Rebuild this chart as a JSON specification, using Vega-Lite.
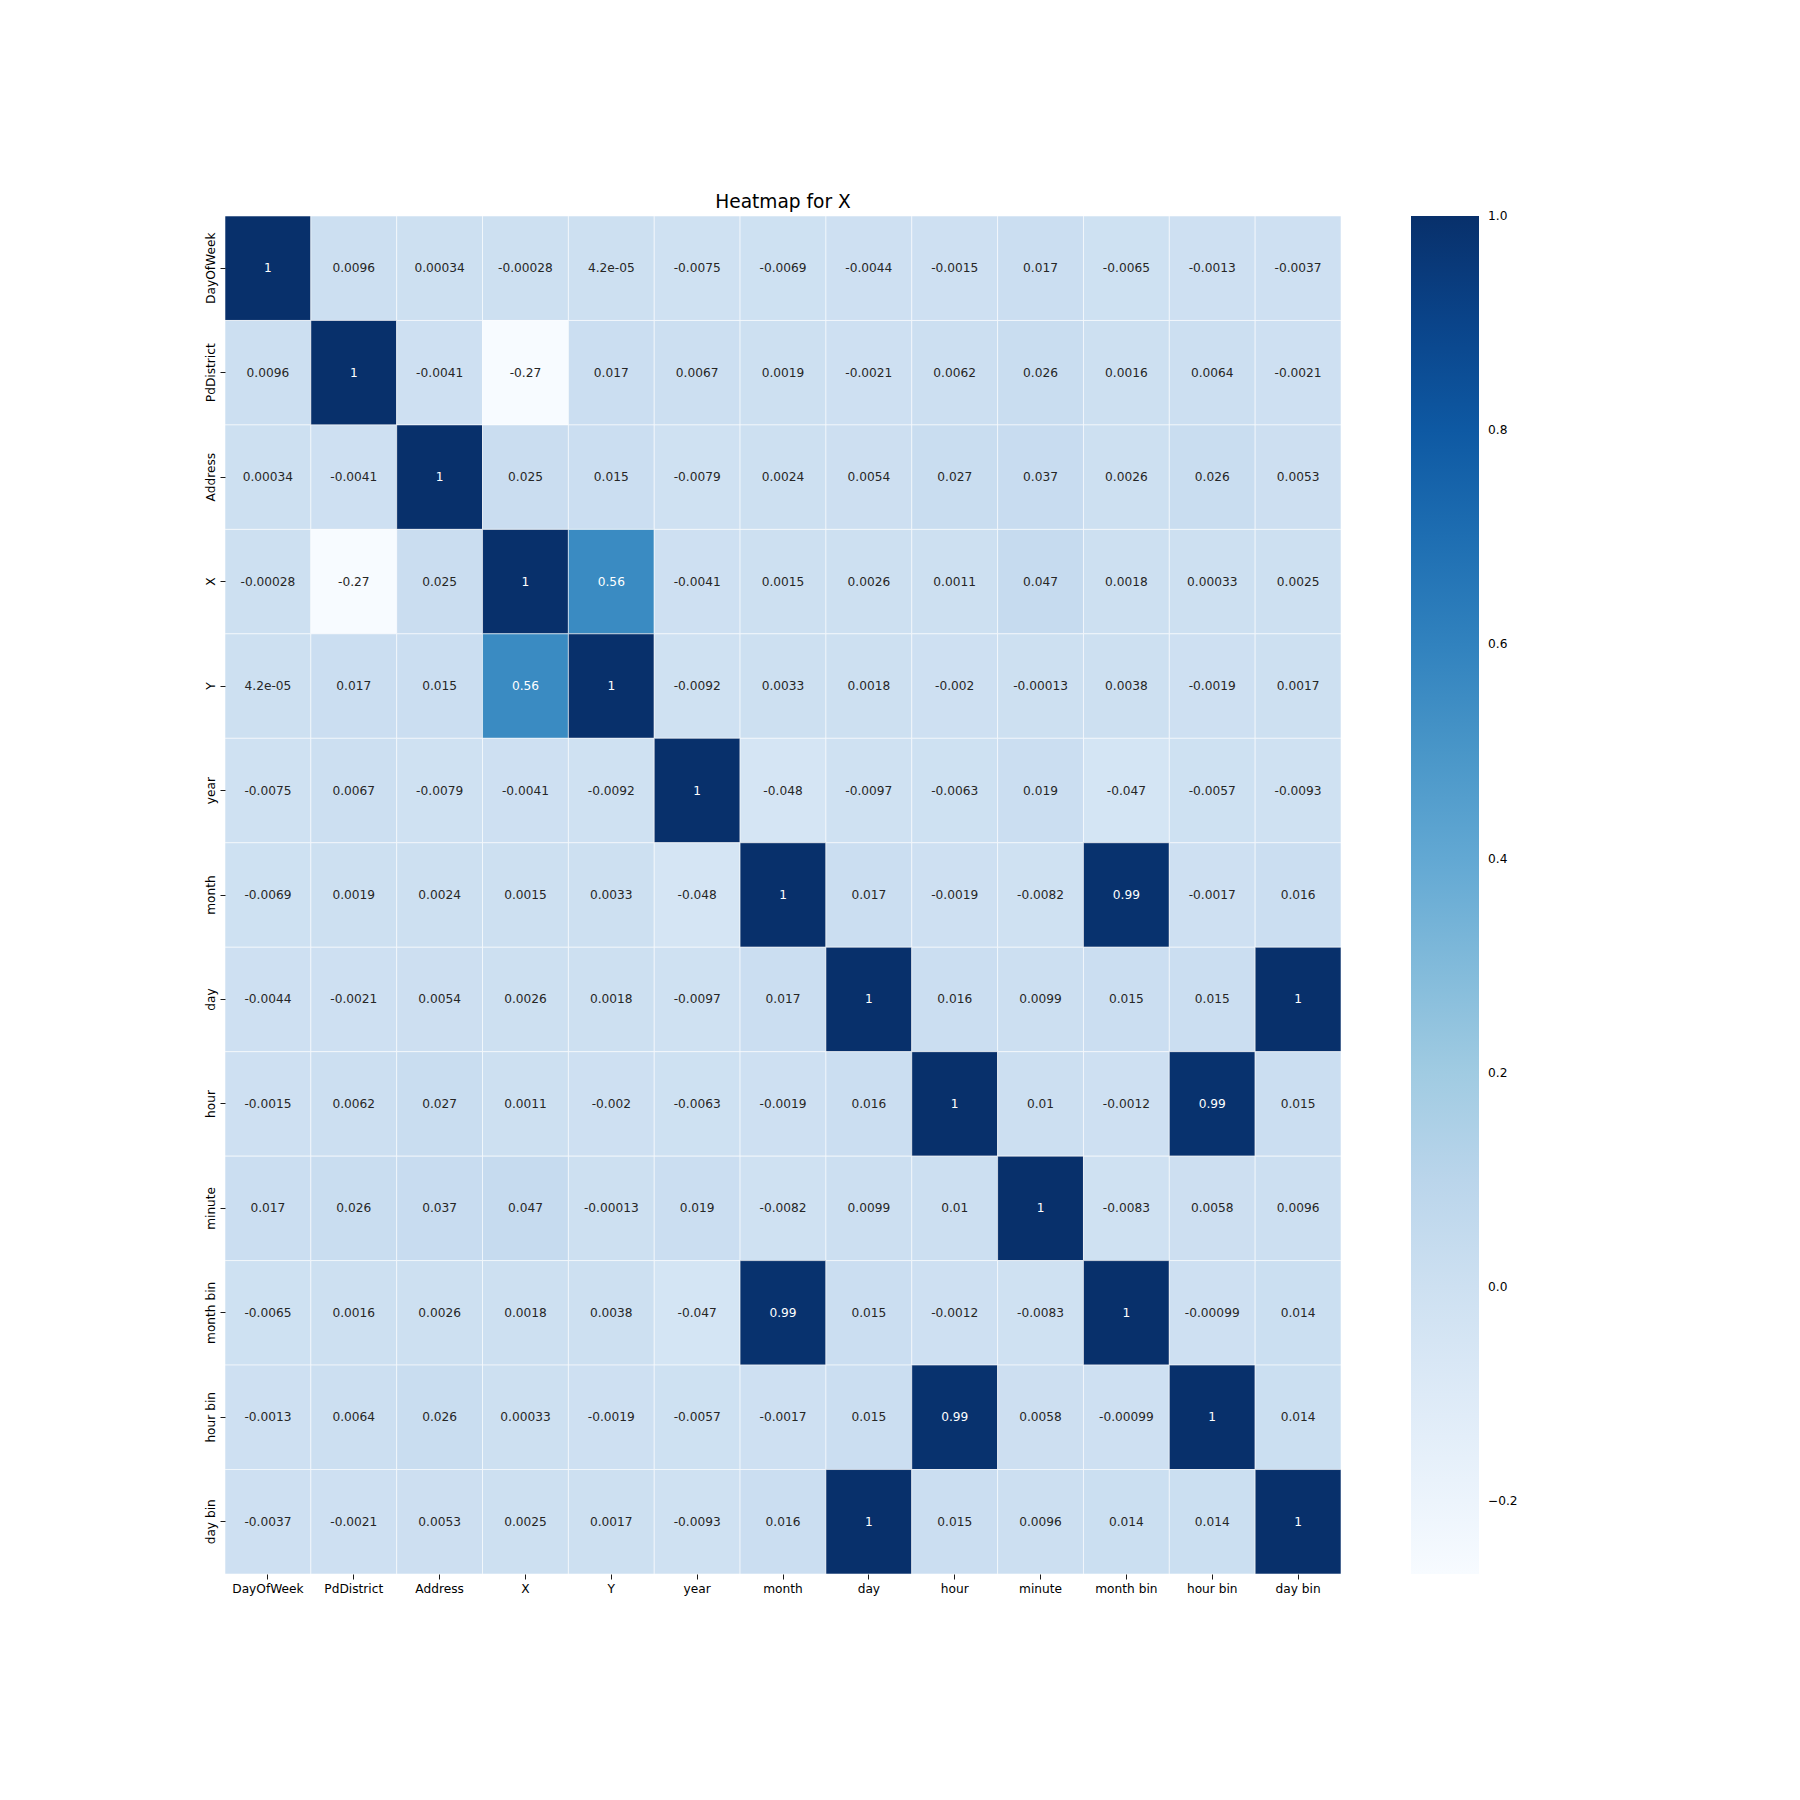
{
  "$schema": "https://vega.github.io/schema/vega-lite/v6.json",
  "width": 1116,
  "height": 1358,
  "autosize": {"type": "none"},
  "padding": {"left": 225, "top": 216, "right": 459, "bottom": 226},
  "background": "white",
  "title": {"text": "Heatmap for X", "font": "DejaVu Sans", "fontSize": 18.6, "fontWeight": "normal", "color": "#000000", "baseline": "alphabetic", "offset": -11, "anchor": "middle"},
  "config": {"view": {"stroke": null}, "font": "DejaVu Sans"},
  "data": {"values": [
    {"r":"DayOfWeek","c":"DayOfWeek","v":1,"t":"1"},{"r":"DayOfWeek","c":"PdDistrict","v":0.0096,"t":"0.0096"},{"r":"DayOfWeek","c":"Address","v":0.00034,"t":"0.00034"},{"r":"DayOfWeek","c":"X","v":-0.00028,"t":"-0.00028"},{"r":"DayOfWeek","c":"Y","v":0.000042,"t":"4.2e-05"},{"r":"DayOfWeek","c":"year","v":-0.0075,"t":"-0.0075"},{"r":"DayOfWeek","c":"month","v":-0.0069,"t":"-0.0069"},{"r":"DayOfWeek","c":"day","v":-0.0044,"t":"-0.0044"},{"r":"DayOfWeek","c":"hour","v":-0.0015,"t":"-0.0015"},{"r":"DayOfWeek","c":"minute","v":0.017,"t":"0.017"},{"r":"DayOfWeek","c":"month bin","v":-0.0065,"t":"-0.0065"},{"r":"DayOfWeek","c":"hour bin","v":-0.0013,"t":"-0.0013"},{"r":"DayOfWeek","c":"day bin","v":-0.0037,"t":"-0.0037"},
    {"r":"PdDistrict","c":"DayOfWeek","v":0.0096,"t":"0.0096"},{"r":"PdDistrict","c":"PdDistrict","v":1,"t":"1"},{"r":"PdDistrict","c":"Address","v":-0.0041,"t":"-0.0041"},{"r":"PdDistrict","c":"X","v":-0.268,"t":"-0.27"},{"r":"PdDistrict","c":"Y","v":0.017,"t":"0.017"},{"r":"PdDistrict","c":"year","v":0.0067,"t":"0.0067"},{"r":"PdDistrict","c":"month","v":0.0019,"t":"0.0019"},{"r":"PdDistrict","c":"day","v":-0.0021,"t":"-0.0021"},{"r":"PdDistrict","c":"hour","v":0.0062,"t":"0.0062"},{"r":"PdDistrict","c":"minute","v":0.026,"t":"0.026"},{"r":"PdDistrict","c":"month bin","v":0.0016,"t":"0.0016"},{"r":"PdDistrict","c":"hour bin","v":0.0064,"t":"0.0064"},{"r":"PdDistrict","c":"day bin","v":-0.0021,"t":"-0.0021"},
    {"r":"Address","c":"DayOfWeek","v":0.00034,"t":"0.00034"},{"r":"Address","c":"PdDistrict","v":-0.0041,"t":"-0.0041"},{"r":"Address","c":"Address","v":1,"t":"1"},{"r":"Address","c":"X","v":0.025,"t":"0.025"},{"r":"Address","c":"Y","v":0.015,"t":"0.015"},{"r":"Address","c":"year","v":-0.0079,"t":"-0.0079"},{"r":"Address","c":"month","v":0.0024,"t":"0.0024"},{"r":"Address","c":"day","v":0.0054,"t":"0.0054"},{"r":"Address","c":"hour","v":0.027,"t":"0.027"},{"r":"Address","c":"minute","v":0.037,"t":"0.037"},{"r":"Address","c":"month bin","v":0.0026,"t":"0.0026"},{"r":"Address","c":"hour bin","v":0.026,"t":"0.026"},{"r":"Address","c":"day bin","v":0.0053,"t":"0.0053"},
    {"r":"X","c":"DayOfWeek","v":-0.00028,"t":"-0.00028"},{"r":"X","c":"PdDistrict","v":-0.268,"t":"-0.27"},{"r":"X","c":"Address","v":0.025,"t":"0.025"},{"r":"X","c":"X","v":1,"t":"1"},{"r":"X","c":"Y","v":0.56,"t":"0.56"},{"r":"X","c":"year","v":-0.0041,"t":"-0.0041"},{"r":"X","c":"month","v":0.0015,"t":"0.0015"},{"r":"X","c":"day","v":0.0026,"t":"0.0026"},{"r":"X","c":"hour","v":0.0011,"t":"0.0011"},{"r":"X","c":"minute","v":0.047,"t":"0.047"},{"r":"X","c":"month bin","v":0.0018,"t":"0.0018"},{"r":"X","c":"hour bin","v":0.00033,"t":"0.00033"},{"r":"X","c":"day bin","v":0.0025,"t":"0.0025"},
    {"r":"Y","c":"DayOfWeek","v":0.000042,"t":"4.2e-05"},{"r":"Y","c":"PdDistrict","v":0.017,"t":"0.017"},{"r":"Y","c":"Address","v":0.015,"t":"0.015"},{"r":"Y","c":"X","v":0.56,"t":"0.56"},{"r":"Y","c":"Y","v":1,"t":"1"},{"r":"Y","c":"year","v":-0.0092,"t":"-0.0092"},{"r":"Y","c":"month","v":0.0033,"t":"0.0033"},{"r":"Y","c":"day","v":0.0018,"t":"0.0018"},{"r":"Y","c":"hour","v":-0.002,"t":"-0.002"},{"r":"Y","c":"minute","v":-0.00013,"t":"-0.00013"},{"r":"Y","c":"month bin","v":0.0038,"t":"0.0038"},{"r":"Y","c":"hour bin","v":-0.0019,"t":"-0.0019"},{"r":"Y","c":"day bin","v":0.0017,"t":"0.0017"},
    {"r":"year","c":"DayOfWeek","v":-0.0075,"t":"-0.0075"},{"r":"year","c":"PdDistrict","v":0.0067,"t":"0.0067"},{"r":"year","c":"Address","v":-0.0079,"t":"-0.0079"},{"r":"year","c":"X","v":-0.0041,"t":"-0.0041"},{"r":"year","c":"Y","v":-0.0092,"t":"-0.0092"},{"r":"year","c":"year","v":1,"t":"1"},{"r":"year","c":"month","v":-0.048,"t":"-0.048"},{"r":"year","c":"day","v":-0.0097,"t":"-0.0097"},{"r":"year","c":"hour","v":-0.0063,"t":"-0.0063"},{"r":"year","c":"minute","v":0.019,"t":"0.019"},{"r":"year","c":"month bin","v":-0.047,"t":"-0.047"},{"r":"year","c":"hour bin","v":-0.0057,"t":"-0.0057"},{"r":"year","c":"day bin","v":-0.0093,"t":"-0.0093"},
    {"r":"month","c":"DayOfWeek","v":-0.0069,"t":"-0.0069"},{"r":"month","c":"PdDistrict","v":0.0019,"t":"0.0019"},{"r":"month","c":"Address","v":0.0024,"t":"0.0024"},{"r":"month","c":"X","v":0.0015,"t":"0.0015"},{"r":"month","c":"Y","v":0.0033,"t":"0.0033"},{"r":"month","c":"year","v":-0.048,"t":"-0.048"},{"r":"month","c":"month","v":1,"t":"1"},{"r":"month","c":"day","v":0.017,"t":"0.017"},{"r":"month","c":"hour","v":-0.0019,"t":"-0.0019"},{"r":"month","c":"minute","v":-0.0082,"t":"-0.0082"},{"r":"month","c":"month bin","v":0.99,"t":"0.99"},{"r":"month","c":"hour bin","v":-0.0017,"t":"-0.0017"},{"r":"month","c":"day bin","v":0.016,"t":"0.016"},
    {"r":"day","c":"DayOfWeek","v":-0.0044,"t":"-0.0044"},{"r":"day","c":"PdDistrict","v":-0.0021,"t":"-0.0021"},{"r":"day","c":"Address","v":0.0054,"t":"0.0054"},{"r":"day","c":"X","v":0.0026,"t":"0.0026"},{"r":"day","c":"Y","v":0.0018,"t":"0.0018"},{"r":"day","c":"year","v":-0.0097,"t":"-0.0097"},{"r":"day","c":"month","v":0.017,"t":"0.017"},{"r":"day","c":"day","v":1,"t":"1"},{"r":"day","c":"hour","v":0.016,"t":"0.016"},{"r":"day","c":"minute","v":0.0099,"t":"0.0099"},{"r":"day","c":"month bin","v":0.015,"t":"0.015"},{"r":"day","c":"hour bin","v":0.015,"t":"0.015"},{"r":"day","c":"day bin","v":1,"t":"1"},
    {"r":"hour","c":"DayOfWeek","v":-0.0015,"t":"-0.0015"},{"r":"hour","c":"PdDistrict","v":0.0062,"t":"0.0062"},{"r":"hour","c":"Address","v":0.027,"t":"0.027"},{"r":"hour","c":"X","v":0.0011,"t":"0.0011"},{"r":"hour","c":"Y","v":-0.002,"t":"-0.002"},{"r":"hour","c":"year","v":-0.0063,"t":"-0.0063"},{"r":"hour","c":"month","v":-0.0019,"t":"-0.0019"},{"r":"hour","c":"day","v":0.016,"t":"0.016"},{"r":"hour","c":"hour","v":1,"t":"1"},{"r":"hour","c":"minute","v":0.01,"t":"0.01"},{"r":"hour","c":"month bin","v":-0.0012,"t":"-0.0012"},{"r":"hour","c":"hour bin","v":0.99,"t":"0.99"},{"r":"hour","c":"day bin","v":0.015,"t":"0.015"},
    {"r":"minute","c":"DayOfWeek","v":0.017,"t":"0.017"},{"r":"minute","c":"PdDistrict","v":0.026,"t":"0.026"},{"r":"minute","c":"Address","v":0.037,"t":"0.037"},{"r":"minute","c":"X","v":0.047,"t":"0.047"},{"r":"minute","c":"Y","v":-0.00013,"t":"-0.00013"},{"r":"minute","c":"year","v":0.019,"t":"0.019"},{"r":"minute","c":"month","v":-0.0082,"t":"-0.0082"},{"r":"minute","c":"day","v":0.0099,"t":"0.0099"},{"r":"minute","c":"hour","v":0.01,"t":"0.01"},{"r":"minute","c":"minute","v":1,"t":"1"},{"r":"minute","c":"month bin","v":-0.0083,"t":"-0.0083"},{"r":"minute","c":"hour bin","v":0.0058,"t":"0.0058"},{"r":"minute","c":"day bin","v":0.0096,"t":"0.0096"},
    {"r":"month bin","c":"DayOfWeek","v":-0.0065,"t":"-0.0065"},{"r":"month bin","c":"PdDistrict","v":0.0016,"t":"0.0016"},{"r":"month bin","c":"Address","v":0.0026,"t":"0.0026"},{"r":"month bin","c":"X","v":0.0018,"t":"0.0018"},{"r":"month bin","c":"Y","v":0.0038,"t":"0.0038"},{"r":"month bin","c":"year","v":-0.047,"t":"-0.047"},{"r":"month bin","c":"month","v":0.99,"t":"0.99"},{"r":"month bin","c":"day","v":0.015,"t":"0.015"},{"r":"month bin","c":"hour","v":-0.0012,"t":"-0.0012"},{"r":"month bin","c":"minute","v":-0.0083,"t":"-0.0083"},{"r":"month bin","c":"month bin","v":1,"t":"1"},{"r":"month bin","c":"hour bin","v":-0.00099,"t":"-0.00099"},{"r":"month bin","c":"day bin","v":0.014,"t":"0.014"},
    {"r":"hour bin","c":"DayOfWeek","v":-0.0013,"t":"-0.0013"},{"r":"hour bin","c":"PdDistrict","v":0.0064,"t":"0.0064"},{"r":"hour bin","c":"Address","v":0.026,"t":"0.026"},{"r":"hour bin","c":"X","v":0.00033,"t":"0.00033"},{"r":"hour bin","c":"Y","v":-0.0019,"t":"-0.0019"},{"r":"hour bin","c":"year","v":-0.0057,"t":"-0.0057"},{"r":"hour bin","c":"month","v":-0.0017,"t":"-0.0017"},{"r":"hour bin","c":"day","v":0.015,"t":"0.015"},{"r":"hour bin","c":"hour","v":0.99,"t":"0.99"},{"r":"hour bin","c":"minute","v":0.0058,"t":"0.0058"},{"r":"hour bin","c":"month bin","v":-0.00099,"t":"-0.00099"},{"r":"hour bin","c":"hour bin","v":1,"t":"1"},{"r":"hour bin","c":"day bin","v":0.014,"t":"0.014"},
    {"r":"day bin","c":"DayOfWeek","v":-0.0037,"t":"-0.0037"},{"r":"day bin","c":"PdDistrict","v":-0.0021,"t":"-0.0021"},{"r":"day bin","c":"Address","v":0.0053,"t":"0.0053"},{"r":"day bin","c":"X","v":0.0025,"t":"0.0025"},{"r":"day bin","c":"Y","v":0.0017,"t":"0.0017"},{"r":"day bin","c":"year","v":-0.0093,"t":"-0.0093"},{"r":"day bin","c":"month","v":0.016,"t":"0.016"},{"r":"day bin","c":"day","v":1,"t":"1"},{"r":"day bin","c":"hour","v":0.015,"t":"0.015"},{"r":"day bin","c":"minute","v":0.0096,"t":"0.0096"},{"r":"day bin","c":"month bin","v":0.014,"t":"0.014"},{"r":"day bin","c":"hour bin","v":0.014,"t":"0.014"},{"r":"day bin","c":"day bin","v":1,"t":"1"}
  ]},
  "encoding": {
    "x": {"field": "c", "type": "nominal", "title": null,
      "scale": {"domain": ["DayOfWeek","PdDistrict","Address","X","Y","year","month","day","hour","minute","month bin","hour bin","day bin"], "paddingInner": 0, "paddingOuter": 0},
      "axis": {"orient": "bottom", "labelAngle": 0, "domain": false, "grid": false, "tickSize": 5, "tickColor": "#000000", "tickWidth": 0.9, "labelPadding": 3, "labelFont": "DejaVu Sans", "labelFontSize": 12.2, "labelColor": "#000000", "labelBaseline": "top"}},
    "y": {"field": "r", "type": "nominal", "title": null,
      "scale": {"domain": ["DayOfWeek","PdDistrict","Address","X","Y","year","month","day","hour","minute","month bin","hour bin","day bin"], "paddingInner": 0, "paddingOuter": 0},
      "axis": {"orient": "left", "labelAngle": -90, "labelAlign": "center", "labelBaseline": "bottom", "domain": false, "grid": false, "tickSize": 5, "tickColor": "#000000", "tickWidth": 0.9, "labelPadding": 3, "labelFont": "DejaVu Sans", "labelFontSize": 12.2, "labelColor": "#000000"}}
  },
  "layer": [
    {
      "mark": {"type": "rect", "stroke": "white", "strokeWidth": 1, "strokeOpacity": 0.55},
      "encoding": {
        "color": {"field": "v", "type": "quantitative",
          "scale": {"type": "linear", "domain": [-0.268, -0.1095, 0.049, 0.2075, 0.366, 0.5245, 0.683, 0.8415, 1.0],
            "range": ["#f7fbff","#deebf7","#c6dbef","#9ecae1","#6baed6","#4292c6","#2171b5","#08519c","#08306b"]},
          "legend": {"title": null, "orient": "none", "legendX": 1186, "legendY": 0, "direction": "vertical", "gradientLength": 1358, "gradientThickness": 68, "gradientStrokeWidth": 0, "values": [-0.2, 0, 0.2, 0.4, 0.6, 0.8, 1.0], "format": ".1f", "labelFont": "DejaVu Sans", "labelFontSize": 12.2, "labelColor": "#000000", "labelOffset": 9, "labelBaseline": "middle", "labelOverlap": false,
            "encode": {"labels": {"update": {"baseline": {"value": "middle"}}}}}}
      }
    },
    {
      "mark": {"type": "text", "font": "DejaVu Sans", "fontSize": 12.2, "align": "center", "baseline": "middle"},
      "encoding": {
        "text": {"field": "t", "type": "nominal"},
        "color": {"condition": {"test": "datum.v > 0.45", "value": "#ffffff"}, "value": "#262626"}
      }
    }
  ]
}
